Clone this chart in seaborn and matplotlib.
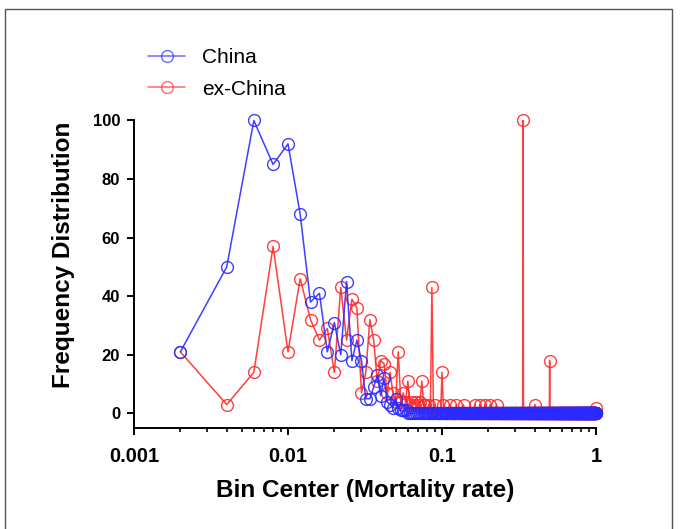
import numpy as np
import pandas as pd
import matplotlib
matplotlib.use("Agg")
import matplotlib.pyplot as plt
from matplotlib.lines import Line2D
from matplotlib.patches import Rectangle
from matplotlib.ticker import FixedLocator, FixedFormatter, LogLocator, NullFormatter
import seaborn as sns

# ---- data (histogram, bin width 0.002, centers 0.002 .. 1.000) ----
bin_centers = [round(0.002 * (i + 1), 3) for i in range(500)]

# non-zero bins; every other bin is 0
china_centers = [0.002, 0.004, 0.006, 0.008, 0.010, 0.012, 0.014, 0.016, 0.018, 0.020,
                 0.022, 0.024, 0.026, 0.028, 0.030, 0.032, 0.034, 0.036, 0.038, 0.040,
                 0.042, 0.044, 0.046, 0.048, 0.050, 0.052, 0.054, 0.056, 0.058]
china_values = [21, 50, 100, 85, 92, 68, 38, 41, 21, 31,
                20, 45, 18, 25, 18, 5, 5, 9, 13, 6,
                12, 4, 3, 2, 5, 2, 1, 1, 1]

exchina_centers = [0.002, 0.004, 0.006, 0.008, 0.010, 0.012, 0.014, 0.016, 0.018, 0.020,
                   0.022, 0.024, 0.026, 0.028, 0.030, 0.032, 0.034, 0.036, 0.038, 0.040,
                   0.042, 0.044, 0.046, 0.048, 0.050, 0.052, 0.054, 0.056, 0.058, 0.060,
                   0.062, 0.064, 0.066, 0.068, 0.070, 0.072, 0.074, 0.076, 0.078, 0.082,
                   0.086, 0.090, 0.100, 0.102, 0.112, 0.124, 0.138, 0.164, 0.176, 0.190,
                   0.206, 0.226, 0.336, 0.400, 0.500, 1.000]
exchina_values = [21, 3, 14, 57, 21, 46, 32, 25, 29, 14,
                  43, 25, 39, 36, 7, 14, 32, 25, 11, 18,
                  17, 7, 14, 7, 4, 21, 4, 7, 4, 11,
                  3, 4, 3, 4, 3, 4, 11, 3, 3, 3,
                  43, 3, 14, 3, 3, 3, 3, 3, 3, 3,
                  3, 3, 100, 3, 18, 2]

series_names = ["China", "ex-China"]
series_colors = ["#2a2aff", "#ff2a2a"]


def full_series(centers, values):
    lookup = dict(zip(centers, values))
    return [lookup.get(c, 0) for c in bin_centers]


df = pd.DataFrame({
    "bin": bin_centers * 2,
    "freq": full_series(china_centers, china_values) + full_series(exchina_centers, exchina_values),
    "region": ["China"] * len(bin_centers) + ["ex-China"] * len(bin_centers),
})

sns.set_style("ticks")
plt.rcParams["font.family"] = ["Liberation Sans", "DejaVu Sans"]
plt.rcParams["text.color"] = "black"
plt.rcParams["axes.labelcolor"] = "black"

fig = plt.figure(figsize=(6.8, 5.29), dpi=100)
ax = fig.add_axes([134 / 680, 1 - 428 / 529, (596 - 134) / 680, (428 - 120.5) / 529])

# draw ex-China first, China on top
for name in ["ex-China", "China"]:
    col = series_colors[series_names.index(name)]
    sub = df[df["region"] == name]
    sns.lineplot(data=sub, x="bin", y="freq", ax=ax, color=col, marker="o",
                 markersize=8.5, markerfacecolor="none", markeredgecolor=col,
                 markeredgewidth=1.0, linewidth=1.1, alpha=0.9, clip_on=False,
                 legend=False, estimator=None, sort=True)

ax.set_xscale("log")
ax.set_xlim(0.001, 1.0)
ax.set_ylim(-5, 100)
ax.xaxis.set_major_locator(FixedLocator([0.001, 0.01, 0.1, 1]))
ax.xaxis.set_major_formatter(FixedFormatter(["0.001", "0.01", "0.1", "1"]))
ax.xaxis.set_minor_locator(LogLocator(base=10, subs=np.arange(2, 10), numticks=20))
ax.xaxis.set_minor_formatter(NullFormatter())
ax.set_yticks([0, 20, 40, 60, 80, 100])

for s in ["top", "right"]:
    ax.spines[s].set_visible(False)
for s in ["left", "bottom"]:
    ax.spines[s].set_linewidth(1.4)
    ax.spines[s].set_color("black")

ax.tick_params(axis="both", which="major", direction="out", length=5, width=1.4,
               colors="black")
ax.tick_params(axis="x", which="major", labelsize=14.5, pad=9)
ax.tick_params(axis="y", which="major", labelsize=12, pad=5)
ax.tick_params(axis="x", which="minor", direction="out", length=3, width=1.2, colors="black")
for lab in ax.get_xticklabels() + ax.get_yticklabels():
    lab.set_fontweight("bold")

ax.set_xlabel("Bin Center (Mortality rate)", fontsize=17.5, fontweight="bold", labelpad=9)
ax.set_ylabel("Frequency Distribution", fontsize=17.5, fontweight="bold")
ax.yaxis.set_label_coords(-0.128, 0.563)

handles = [Line2D([0], [0], color=c, marker="o", markersize=8.5, markerfacecolor="none",
                  markeredgecolor=c, linewidth=1.1, alpha=0.7) for c in series_colors]
fig.legend(handles, series_names, loc="upper left", bbox_to_anchor=(0.19, 0.945),
           frameon=False, fontsize=15, labelspacing=0.62, handlelength=1.8, handletextpad=0.8)

fig.patches.append(Rectangle((5 / 680, -0.05), (672 - 5) / 680, 1.05 - 9 / 529,
                             transform=fig.transFigure, fill=False,
                             edgecolor="#555555", linewidth=1.0))

fig.savefig("out.png", dpi=100)
